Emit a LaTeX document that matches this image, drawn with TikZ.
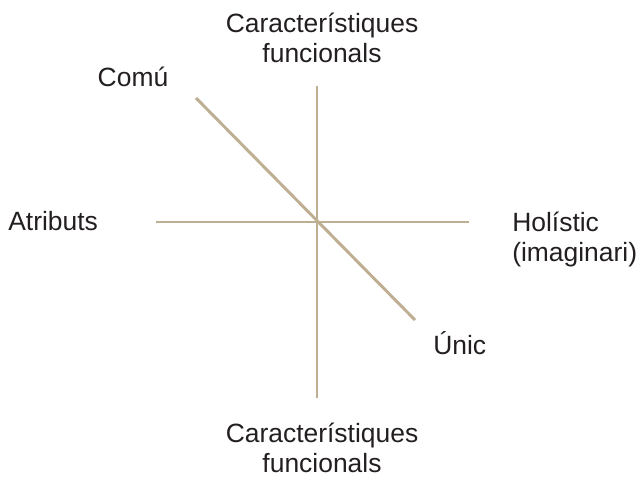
\documentclass[tikz,border=0pt]{standalone}
\usepackage{fontspec}
\setmainfont{Liberation Sans}
\usepackage{tikz}
\usetikzlibrary{calc,positioning}
\usepackage{xcolor}
\definecolor{axistan}{RGB}{190,175,147}
\definecolor{labelgray}{RGB}{35,31,32}

\begin{document}
\begin{tikzpicture}[x=0.025cm,y=-0.025cm]
  \tikzset{
    lbl/.style={inner sep=0pt,text=labelgray,font=\fontsize{18.8}{21.3}\selectfont},
    twoline/.style={lbl,align=center,anchor=north},
    axis/.style={draw=axistan,line width=2.1pt},
  }
  \useasboundingbox (0,0) rectangle (638,477);

  % axis ends
  \coordinate (top) at (317,86);
  \coordinate (bottom) at (317,398);
  \coordinate (left) at (156,222);
  \coordinate (right) at (469,222);
  \coordinate (common) at (196,98);
  \coordinate (unique) at (415,320);

  \draw[axis] (top)--(bottom);
  \draw[axis] (left)--(right);
  \draw[axis] (common)--(unique);

  \node[twoline] (funcTop) at (322,13) {Característiques\\funcionals};
  \node[twoline] (funcBot) at (322,423) {Característiques\\funcionals};
  \node[lbl,anchor=base] (comu) at (133,87) {Comú};
  \node[lbl,anchor=base west] (atrib) at (8,231) {Atributs};
  \node[lbl,align=left,anchor=north west] (holis) at (512,212) {Holístic\\(imaginari)};
  \node[lbl,anchor=base west] (unic) at (433,355) {Únic};
\end{tikzpicture}
\end{document}
